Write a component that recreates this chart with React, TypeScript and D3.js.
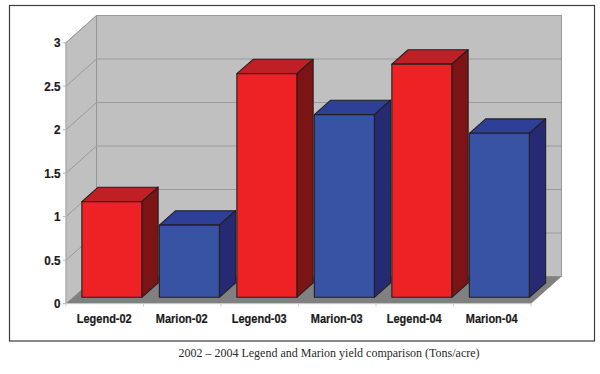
import React from "react";
import * as d3 from "d3";

const categories = ["Legend-02", "Marion-02", "Legend-03", "Marion-03", "Legend-04", "Marion-04"];
const yields = [1.1, 0.83, 2.57, 2.1, 2.68, 1.885];
const varieties = ["Legend", "Marion", "Legend", "Marion", "Legend", "Marion"];
const yTicks = [0, 0.5, 1, 1.5, 2, 2.5, 3];
const caption = "2002 – 2004 Legend and Marion yield comparison (Tons/acre)";

const palette: Record<string, { front: string; top: string; side: string }> = {
  Legend: { front: "#ee2224", top: "#be2026", side: "#7c1416" },
  Marion: { front: "#3953a4", top: "#2e3f97", side: "#262a72" },
};

const W = 600, H = 374;
const X0 = 66, X1 = 531, Y0 = 303.7, Y3 = 42.7;
const DX = 30.5, DY = 27.2;
const gap = { x: 7.1, y: 6.4 };
const depth = { x: 16.3, y: 14.4 };

const pts = (p: number[][]) => p.map((q) => q.join(",")).join(" ");

export default function App() {
  const y = d3.scaleLinear().domain([0, 3]).range([Y0, Y3]);
  const x = d3.scaleBand<string>().domain(categories).range([X0, X1]).paddingInner(0.226).paddingOuter(0.113);
  const edges = d3.scalePoint<string>().domain(categories.concat("end")).range([X0, X1]);
  const sans = "'Liberation Sans', Arial, sans-serif";
  const grid = "#9a9a9a";

  return (
    <svg width={W} height={H} viewBox={`0 0 ${W} ${H}`} style={{ position: "fixed", left: 0, top: 0, display: "block", background: "#fff" }}>
      <rect x={9.5} y={5.5} width={585} height={335.5} fill="#fff" stroke="#3c3c3c" strokeWidth={1.2} />
      {/* back wall */}
      <rect x={X0 + DX} y={Y3 - DY} width={X1 - X0} height={Y0 - Y3} fill="#c0c0c0" stroke="#999" strokeWidth={1} />
      {/* side wall */}
      <polygon points={pts([[X0, Y3], [X0 + DX, Y3 - DY], [X0 + DX, Y0 - DY], [X0, Y0]])} fill="#c0c0c0" stroke="#8f8f8f" strokeWidth={0.8} />
      {/* floor */}
      <polygon points={pts([[X0, Y0], [X0 + DX, Y0 - DY], [X1 + DX, Y0 - DY], [X1, Y0]])} fill="#808080" />
      {/* grid lines */}
      {yTicks.slice(1).map((t) => (
        <g key={t} fill="none" stroke={grid} strokeWidth={1}>
          <polyline points={pts([[X0, y(t)], [X0 + DX, y(t) - DY], [X1 + DX, y(t) - DY]])} />
        </g>
      ))}
      {/* axis ticks */}
      <line x1={X0} x2={X0} y1={Y3} y2={Y0} stroke="#b5b5b5" />
      <line x1={X0} x2={X1} y1={Y0} y2={Y0} stroke="#cfcfcf" />
      {yTicks.map((t) => (
        <g key={t}>
          <line x1={X0 - 3} x2={X0} y1={y(t)} y2={y(t)} stroke="#b5b5b5" />
          <text transform={`translate(60.5,${y(t) + 4.5}) scale(0.9,1)`} textAnchor="end" fontFamily={sans} fontWeight={700} fontSize={13} fill="#1a1a1a" stroke="#1a1a1a" strokeWidth={0.2}>{t}</text>
        </g>
      ))}
      {categories.concat("end").map((c) => (
        <line key={c} x1={edges(c)} x2={edges(c)} y1={Y0} y2={Y0 + 3} stroke="#cfcfcf" />
      ))}
      {/* bars */}
      {categories.map((c, i) => {
        const col = palette[varieties[i]];
        const xl = (x(c) as number) + gap.x;
        const xr = xl + x.bandwidth();
        const yb = Y0 - gap.y;
        const yt = y(yields[i]) - gap.y;
        return (
          <g key={c} stroke="#231f20" strokeWidth={1.1} strokeLinejoin="round">
            <polygon points={pts([[xl, yt], [xl + depth.x, yt - depth.y], [xr + depth.x, yt - depth.y], [xr, yt]])} fill={col.top} />
            <polygon points={pts([[xr, yt], [xr + depth.x, yt - depth.y], [xr + depth.x, yb - depth.y], [xr, yb]])} fill={col.side} />
            <rect x={xl} y={yt} width={x.bandwidth()} height={yb - yt} fill={col.front} />
          </g>
        );
      })}
      {/* category labels */}
      {categories.map((c) => (
        <text key={c} transform={`translate(${(x(c) as number) + x.bandwidth() / 2 - 0.5},323) scale(0.88,1)`} textAnchor="middle" fontFamily={sans} fontWeight={700} fontSize={12.5} fill="#1a1a1a" stroke="#1a1a1a" strokeWidth={0.2}>{c}</text>
      ))}
      <text x={329} y={357} textAnchor="middle" fontFamily="'Liberation Serif', 'Times New Roman', serif" fontSize={12} fill="#2a2a2a">{caption}</text>
    </svg>
  );
}
